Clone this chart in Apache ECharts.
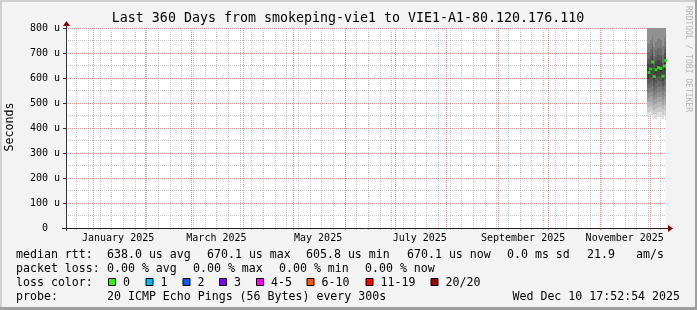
<!DOCTYPE html>
<html><head><meta charset="utf-8">
<script src="https://cdn.jsdelivr.net/npm/echarts@6/dist/echarts.min.js"></script>
<style>html,body{margin:0;padding:0;background:#f3f3f3}#c{width:697px;height:310px}</style>
</head><body><div id="c"></div>
<script>
// ---------- data ----------
const titleText = 'Last 360 Days from smokeping-vie1 to VIE1-A1-80.120.176.110';
const endTime = '2025-12-10 17:52:54';
const spanDays = 360;
const firstSunday = '2024-12-22';
const monthStarts = ['2025-01-01','2025-02-01','2025-03-01','2025-04-01','2025-05-01','2025-06-01',
  '2025-07-01','2025-08-01','2025-09-01','2025-10-01','2025-11-01','2025-12-01'];
const labelDates = ['2025-01-16','2025-03-16','2025-05-16','2025-07-16','2025-09-16','2025-11-16'];
const labelTexts = ['January 2025','March 2025','May 2025','July 2025','September 2025','November 2025'];
const yMax = 800, yStep = 100;

const stepTimes = ['2025-11-30 13:00','2025-12-01 13:00','2025-12-02 15:00','2025-12-03 17:00','2025-12-04 18:00',
  '2025-12-06 06:00','2025-12-07 15:00','2025-12-08 20:00','2025-12-09 20:00','2025-12-10 13:00'];
const medianRtt = [622, 636, 664, 605.8, 633, 642, 638, 607, 648, 670.1];   // µs
const lossPct   = [0, 0, 0, 0, 0, 0, 0, 0, 0, 0];
// sorted ping ranks (20 pings per step), µs
const rank01 = [445,452,440,436,438,444,446,438,448,432];
const rank02 = [465,470,460,455,458,464,466,456,468,454];
const rank03 = [484,490,480,474,478,484,486,475,488,476];
const rank04 = [503,508,500,494,498,504,505,494,508,498];
const rank05 = [522,527,522,512,518,524,524,513,528,522];
const rank06 = [541,546,545,530,538,544,543,532,548,546];
const rank07 = [560,566,568,550,558,565,563,551,570,572];
const rank08 = [578,586,592,570,580,588,585,570,592,598];
const rank09 = [597,606,620,588,602,610,606,589,615,628];
const rank10 = [612,624,648,598,622,630,626,600,636,655];
const rank11 = [632,648,680,614,644,654,650,614,660,685];
const rank12 = [655,668,700,636,664,674,670,640,680,705];
const rank13 = [676,688,712,656,684,694,690,660,700,718];
const rank14 = [704,716,738,688,712,722,718,692,726,744];
const rank15 = [738,752,768,724,746,756,752,728,760,772];
const rank16 = [825,840,850,815,832,845,838,818,850,860];
const rank17 = [890,910,920,880,900,915,905,885,920,930];
const rank18 = [980,1000,1010,970,990,1005,995,975,1010,1020];
const rank19 = [1120,1150,1160,1100,1130,1150,1140,1110,1160,1170];
const rank20 = [1350,1400,1420,1300,1380,1400,1390,1320,1420,1450];

const medianLabel = 'median rtt:';
const medianStats = ['638.0 us avg','670.1 us max','605.8 us min','670.1 us now','0.0 ms sd','21.9','am/s'];
const lossLabel = 'packet loss:';
const lossStats = ['0.00 % avg','0.00 % max','0.00 % min','0.00 % now'];
const lossColorLabel = 'loss color:';
const lossNames = ['0','1','2','3','4-5','6-10','11-19','20/20'];
const lossColors = ['#26ff00','#00b8ff','#0059ff','#7e00ff','#ff00ff','#ff5500','#ff0000','#a10000'];
const probeLabel = 'probe:';
const probeText = '20 ICMP Echo Pings (56 Bytes) every 300s';
const dateText = 'Wed Dec 10 17:52:54 2025';
const watermark = 'RRDTOOL / TOBI OETIKER';
const yName = 'Seconds';

// ---------- layout ----------
const G = {left: 66, top: 28, width: 600, height: 200};
const FONT = '"DejaVu Sans Mono", monospace';
const medianStatX = [107, 207, 306, 407, 507, 587, 636];
const lossStatX = [107, 193, 279, 365];
const lossBoxX = [108, 145.5, 182.5, 219, 256, 306.5, 365.5, 430.5];
const rowY = [255, 269, 283, 297];

// ---------- helpers ----------
function T(s) {
  const parts = s.split(' ');
  let h = parts[1] || '00:00:00';
  if (h.length === 5) h += ':00';
  return Date.parse(parts[0] + 'T' + h + 'Z');
}
const DAY = 86400000;
const tEnd = T(endTime), tStart = tEnd - spanDays * DAY;
const weekTicks = [];
for (let t = T(firstSunday); t < tEnd; t += 7 * DAY) weekTicks.push(t);
const monthTicks = monthStarts.map(T);
const labelTicks = labelDates.map(T);

const ranks = [rank01,rank02,rank03,rank04,rank05,rank06,rank07,rank08,rank09,rank10,
  rank11,rank12,rank13,rank14,rank15,rank16,rank17,rank18,rank19,rank20];
const st = stepTimes.map(T);
const smokeRows = st.map((t, i) => {
  const a = i === 0 ? t - (st[1] - st[0]) : (st[i - 1] + t) / 2;
  const b = i === st.length - 1 ? t + (t - st[i - 1]) : (t + st[i + 1]) / 2;
  return [t, a, b].concat(ranks.map(r => r[i]));
});
const medianData = st.map((t, i) => ({value: [t, medianRtt[i]], itemStyle: {color: lossColors[lossPct[i]]}}));

// ---------- graphics ----------
const gfx = [];
function txt(x, y, s, size, opts) {
  gfx.push(Object.assign({type: 'text', x: x, y: y, z: 100,
    style: Object.assign({text: s, font: size + 'px ' + FONT, fill: '#000', align: 'left', verticalAlign: 'middle'}, (opts && opts.style) || {})},
    opts && opts.rotation !== undefined ? {rotation: opts.rotation} : {}));
}
// frame shading
gfx.push({type: 'rect', shape: {x: 0, y: 0, width: 697, height: 2}, style: {fill: '#cfcfcf'}});
gfx.push({type: 'rect', shape: {x: 0, y: 0, width: 2, height: 310}, style: {fill: '#cfcfcf'}});
gfx.push({type: 'rect', shape: {x: 0, y: 307, width: 697, height: 3}, style: {fill: '#9e9e9e'}});
gfx.push({type: 'rect', shape: {x: 695, y: 0, width: 2, height: 310}, style: {fill: '#9e9e9e'}});
// axes lines + arrows
const x0 = G.left, y0 = G.top + G.height, x1 = G.left + G.width;
gfx.push({type: 'line', z: 50, shape: {x1: x0 - 4, y1: y0 + 0.5, x2: x1 + 3, y2: y0 + 0.5}, style: {stroke: '#222', lineWidth: 1}});
gfx.push({type: 'line', z: 50, shape: {x1: x0 + 0.5, y1: y0 + 3, x2: x0 + 0.5, y2: G.top - 3}, style: {stroke: '#333', lineWidth: 1}});
gfx.push({type: 'polygon', z: 51, shape: {points: [[x1 + 2, y0 - 3], [x1 + 7, y0 + 0.5], [x1 + 2, y0 + 4]]}, style: {fill: '#7f0000'}});
gfx.push({type: 'polygon', z: 51, shape: {points: [[x0 - 3, G.top - 2], [x0 + 0.5, G.top - 7], [x0 + 4, G.top - 2]]}, style: {fill: '#7f0000'}});
// title
txt(348, 19, titleText, 13.3, {style: {align: 'center'}});
// y name
txt(10, 127, yName, 11.6, {rotation: Math.PI / 2, style: {align: 'center'}});
// watermark
txt(688, 59, watermark, 8, {rotation: -Math.PI / 2, style: {align: 'center', fill: '#b4b4b4'}});
// legend rows
txt(16, rowY[0], medianLabel, 11.6);
medianStats.forEach((s, i) => txt(medianStatX[i], rowY[0], s, 11.6));
txt(16, rowY[1], lossLabel, 11.6);
lossStats.forEach((s, i) => txt(lossStatX[i], rowY[1], s, 11.6));
txt(16, rowY[2], lossColorLabel, 11.6);
lossNames.forEach((s, i) => {
  gfx.push({type: 'rect', z: 100, shape: {x: lossBoxX[i] + 0.5, y: rowY[2] - 4.5, width: 7, height: 7},
    style: {fill: lossColors[i], stroke: '#000', lineWidth: 1}});
  txt(lossBoxX[i] + 15, rowY[2], s, 11.6);
});
txt(16, rowY[3], probeLabel, 11.6);
txt(107, rowY[3], probeText, 11.6);
txt(680, rowY[3], dateText, 11.6, {style: {align: 'right'}});

// ---------- chart ----------
const chart = echarts.init(document.getElementById('c'), null, {renderer: 'canvas'});
const gridLine = 'rgba(143,143,143,0.5)';
const mgridLine = 'rgba(222,80,80,0.6)';
chart.setOption({
  animation: false,
  backgroundColor: '#f3f3f3',
  grid: {left: G.left, top: G.top, width: G.width, height: G.height, show: true,
    backgroundColor: '#ffffff', borderWidth: 0, containLabel: false, outerBoundsMode: 'none'},
  xAxis: [
    { // weekly minor grid
      type: 'value', min: tStart, max: tEnd, position: 'bottom',
      axisLine: {show: false},
      axisTick: {show: true, length: 2, customValues: weekTicks, lineStyle: {color: gridLine}},
      axisLabel: {show: false},
      splitLine: {show: true, lineStyle: {color: gridLine, type: [1, 1], width: 1}}
    },
    { // monthly major grid + labels
      type: 'value', min: tStart, max: tEnd, position: 'bottom',
      axisLine: {show: false},
      axisTick: {show: true, length: 2, customValues: monthTicks, lineStyle: {color: mgridLine}},
      axisLabel: {show: true, customValues: labelTicks, margin: 5, fontFamily: FONT, fontSize: 10, color: '#000',
        formatter: v => { const i = labelTicks.indexOf(v); return i >= 0 ? labelTexts[i] : ''; }},
      splitLine: {show: true, lineStyle: {color: mgridLine, type: [1, 1], width: 1}}
    }
  ],
  yAxis: {
    type: 'value', min: 0, max: yMax, interval: yStep,
    axisLine: {show: false},
    axisTick: {show: true, length: 3, lineStyle: {color: '#333'}},
    axisLabel: {margin: 6, fontFamily: FONT, fontSize: 10, color: '#000',
      formatter: v => v === 0 ? '0  ' : v + ' u'},
    splitLine: {show: true, lineStyle: {color: mgridLine, type: [1, 1], width: 1}},
    minorTick: {show: false, splitNumber: 2},
    minorSplitLine: {show: true, lineStyle: {color: gridLine, type: [1, 1], width: 1}}
  },
  series: [
    {
      type: 'custom', xAxisIndex: 1, yAxisIndex: 0, z: 2,
      data: smokeRows,
      encode: {x: [0, 1, 2], y: 3},
      renderItem: (params, api) => {
        const cs = params.coordSys;
        let xa = Math.round(api.coord([api.value(1), 0])[0]);
        let xb = Math.round(api.coord([api.value(2), 0])[0]);
        xa = Math.max(xa, cs.x); xb = Math.min(xb, cs.x + cs.width);
        const children = [];
        for (let b = 0; b < 10; b++) {
          const lo = api.value(3 + b), hi = api.value(3 + 19 - b);
          let yl = Math.round(api.coord([api.value(0), lo])[1]);
          let yh = Math.round(api.coord([api.value(0), hi])[1]);
          yh = Math.max(yh, cs.y); yl = Math.min(yl, cs.y + cs.height);
          const g = Math.floor(190 / 10 * (9 - b)) + 50;
          children.push({type: 'rect', shape: {x: xa, y: yh, width: xb - xa, height: yl - yh},
            style: {fill: 'rgb(' + g + ',' + g + ',' + g + ')'}});
        }
        return {type: 'group', children: children};
      }
    },
    {
      type: 'scatter', xAxisIndex: 1, yAxisIndex: 0, z: 5,
      symbol: 'rect', symbolSize: 3,
      data: medianData
    }
  ],
  graphic: {elements: gfx}
});
</script>
</body></html>
